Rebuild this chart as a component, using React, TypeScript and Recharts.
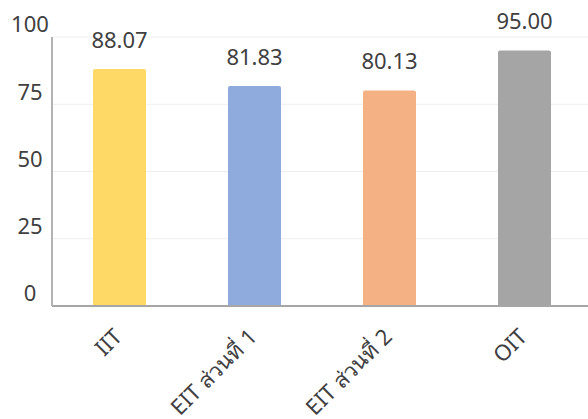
import { Bar, BarChart, CartesianGrid, Cell, LabelList, XAxis, YAxis } from "recharts"

const categories = ["IIT", "EIT ส่วนที่ 1", "EIT ส่วนที่ 2", "OIT"]
const scores = [88.07, 81.83, 80.13, 95.0]
const barColors = ["#FFD966", "#8FAADC", "#F4B183", "#A5A5A5"]
const yTicks = [0, 25, 50, 75, 100]

const data = categories.map((name, i) => ({ name, score: scores[i] }))

const FONT = "'Noto Sans', sans-serif"
const TEXT = "#404040"

function YTick({ y, payload }: any) {
  return (
    <text x={30} y={y - 12.5} dy="0.355em" textAnchor="middle" fontSize={22} fontFamily={FONT} fill={TEXT}>
      {payload.value}
    </text>
  )
}

function XTick({ x, y, payload }: any) {
  return (
    <g transform={`translate(${x + 4},${y + 32})`}>
      <text textAnchor="end" transform="rotate(-45)" fontSize={22} fontFamily={FONT} fill={TEXT}>
        {payload.value}
      </text>
    </g>
  )
}

export default function App() {
  return (
    <div style={{ position: "absolute", left: 0, top: 0 }}>
      <BarChart width={600} height={419} data={data} margin={{ top: 37, right: 8, left: 0, bottom: 0 }}>
        <CartesianGrid vertical={false} stroke="#eeeeee" />
        <XAxis
          dataKey="name"
          height={113}
          tickLine={false}
          tickSize={0}
          tickMargin={0}
          axisLine={{ stroke: "#a6a6a6", strokeWidth: 2 }}
          tick={<XTick />}
          interval={0}
        />
        <YAxis
          width={52}
          domain={[0, 100]}
          ticks={yTicks}
          tickLine={false}
          tickSize={0}
          axisLine={{ stroke: "#b3b3b3", strokeWidth: 2 }}
          tick={<YTick />}
        />
        <Bar dataKey="score" barSize={53} radius={[2, 2, 0, 0]} isAnimationActive={false}>
          {data.map((d, i) => (
            <Cell key={d.name} fill={barColors[i]} />
          ))}
          <LabelList
            dataKey="score"
            position="top"
            offset={21}
            formatter={(v: any) => Number(v).toFixed(2)}
            fontSize={22}
            fontFamily={FONT}
            fill={TEXT}
          />
        </Bar>
      </BarChart>
    </div>
  )
}
